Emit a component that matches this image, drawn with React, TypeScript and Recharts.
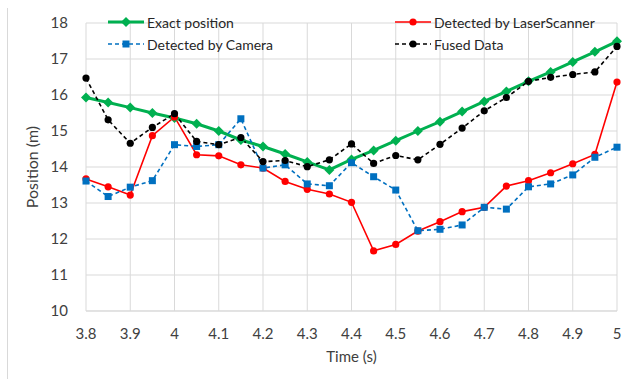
import React from 'react';
import { LineChart, Line, XAxis, YAxis, CartesianGrid, Label } from 'recharts';

const times = [3.8, 3.85, 3.9, 3.95, 4.0, 4.05, 4.1, 4.15, 4.2, 4.25, 4.3, 4.35, 4.4, 4.45, 4.5, 4.55, 4.6, 4.65, 4.7, 4.75, 4.8, 4.85, 4.9, 4.95, 5.0];
const exact = [15.93, 15.79, 15.65, 15.5, 15.36, 15.2, 15.0, 14.75, 14.57, 14.36, 14.14, 13.92, 14.21, 14.46, 14.73, 15.0, 15.26, 15.54, 15.82, 16.1, 16.38, 16.64, 16.92, 17.2, 17.49];
const laser = [13.67, 13.45, 13.22, 14.87, 15.39, 14.34, 14.31, 14.06, 13.97, 13.6, 13.38, 13.25, 13.02, 11.67, 11.85, 12.22, 12.48, 12.76, 12.88, 13.47, 13.62, 13.84, 14.09, 14.35, 16.36];
const camera = [13.61, 13.18, 13.44, 13.62, 14.62, 14.57, 14.62, 15.34, 13.97, 14.06, 13.53, 13.48, 14.12, 13.73, 13.36, 12.23, 12.27, 12.39, 12.88, 12.83, 13.45, 13.53, 13.78, 14.27, 14.55];
const fused = [16.47, 15.31, 14.66, 15.1, 15.48, 14.71, 14.62, 14.82, 14.15, 14.18, 14.01, 14.2, 14.64, 14.1, 14.32, 14.2, 14.63, 15.08, 15.56, 15.93, 16.38, 16.49, 16.57, 16.64, 17.35];

const xTicks = [3.8, 3.9, 4.0, 4.1, 4.2, 4.3, 4.4, 4.5, 4.6, 4.7, 4.8, 4.9, 5.0];
const yTicks = [10, 11, 12, 13, 14, 15, 16, 17, 18];

const data = times.map((t, i) => ({ t, exact: exact[i], laser: laser[i], camera: camera[i], fused: fused[i] }));

const FONT = 'Lato, "Open Sans", sans-serif';
const GREEN = '#00B050';
const RED = '#FF0000';
const BLUE = '#0070C0';
const BLACK = '#000000';
const TEXT = '#404040';

const Diamond = (props: any) => {
  const { cx, cy, index } = props;
  if (cx == null || cy == null) return null;
  const s = 5;
  return <path key={index} d={`M${cx},${cy - s}L${cx + s},${cy}L${cx},${cy + s}L${cx - s},${cy}Z`} fill={GREEN} />;
};

const Square = (props: any) => {
  const { cx, cy, index } = props;
  if (cx == null || cy == null) return null;
  return <rect key={index} x={cx - 3.5} y={cy - 3.5} width={7} height={7} fill={BLUE} />;
};

const Dot = (color: string) => (props: any) => {
  const { cx, cy, index } = props;
  if (cx == null || cy == null) return null;
  return <circle key={index} cx={cx} cy={cy} r={3.6} fill={color} />;
};

const legendItems = [
  { name: 'Exact position', color: GREEN, width: 3, dash: undefined, marker: 'diamond', x: 108, y: 22 },
  { name: 'Detected by Camera', color: BLUE, width: 1.5, dash: '4 3', marker: 'square', x: 108, y: 44 },
  { name: 'Detected by LaserScanner', color: RED, width: 1.5, dash: undefined, marker: 'circle', x: 395, y: 22 },
  { name: 'Fused Data', color: BLACK, width: 1.5, dash: '4 3', marker: 'circle', x: 395, y: 44 },
];

function LegendBox() {
  return (
    <>
      {legendItems.map(item => (
        <div key={item.name} style={{ position: 'absolute', left: item.x, top: item.y - 10, height: 20, display: 'flex', alignItems: 'center', fontFamily: FONT, fontSize: 14, color: '#262626', whiteSpace: 'nowrap' }}>
          <svg width={36} height={20} style={{ marginRight: 3 }}>
            <line x1={0} y1={10} x2={36} y2={10} stroke={item.color} strokeWidth={item.width} strokeDasharray={item.dash} />
            {item.marker === 'diamond' && <path d="M18,5L23,10L18,15L13,10Z" fill={item.color} />}
            {item.marker === 'square' && <rect x={14.5} y={6.5} width={7} height={7} fill={item.color} />}
            {item.marker === 'circle' && <circle cx={18} cy={10} r={3.6} fill={item.color} />}
          </svg>
          <span>{item.name}</span>
        </div>
      ))}
    </>
  );
}

export default function App() {
  return (
    <div style={{ position: 'absolute', left: 0, top: 0, width: 633, height: 379, background: '#fff' }}>
      <div style={{ position: 'absolute', left: 7, top: 8, width: 1, height: 371, background: '#d9d9d9' }} />
      <LineChart width={633} height={379} data={data} margin={{ top: 23, right: 16, bottom: 8, left: 20 }}>
        <CartesianGrid stroke="#d9d9d9" vertical horizontal verticalValues={xTicks} />
        <XAxis
          dataKey="t"
          type="number"
          domain={[3.8, 5]}
          ticks={xTicks}
          tickFormatter={(v: number) => String(Number(v.toFixed(1)))}
          axisLine={{ stroke: '#d9d9d9' }}
          tickLine={false}
          tickSize={0}
          tickMargin={17}
          height={60}
          tick={{ fill: TEXT, fontSize: 15, fontFamily: FONT }}
        >
          <Label value="Time (s)" position="insideBottom" offset={9} style={{ fill: TEXT, fontSize: 15, fontFamily: FONT }} />
        </XAxis>
        <YAxis
          type="number"
          domain={[10, 18]}
          ticks={yTicks}
          axisLine={false}
          tickLine={false}
          tickSize={0}
          tickMargin={18}
          width={66}
          tick={{ fill: TEXT, fontSize: 15, fontFamily: FONT }}
        >
          <Label value="Position (m)" angle={-90} position="insideLeft" offset={12} style={{ textAnchor: 'middle', fill: TEXT, fontSize: 16, fontFamily: FONT }} />
        </YAxis>
        <Line dataKey="exact" stroke={GREEN} strokeWidth={3} dot={Diamond} activeDot={false} isAnimationActive={false} />
        <Line dataKey="laser" stroke={RED} strokeWidth={1.6} dot={Dot(RED)} activeDot={false} isAnimationActive={false} />
        <Line dataKey="camera" stroke={BLUE} strokeWidth={1.6} strokeDasharray="4 3" dot={Square} activeDot={false} isAnimationActive={false} />
        <Line dataKey="fused" stroke={BLACK} strokeWidth={1.6} strokeDasharray="4 3" dot={Dot(BLACK)} activeDot={false} isAnimationActive={false} />
      </LineChart>
      <LegendBox />
    </div>
  );
}
